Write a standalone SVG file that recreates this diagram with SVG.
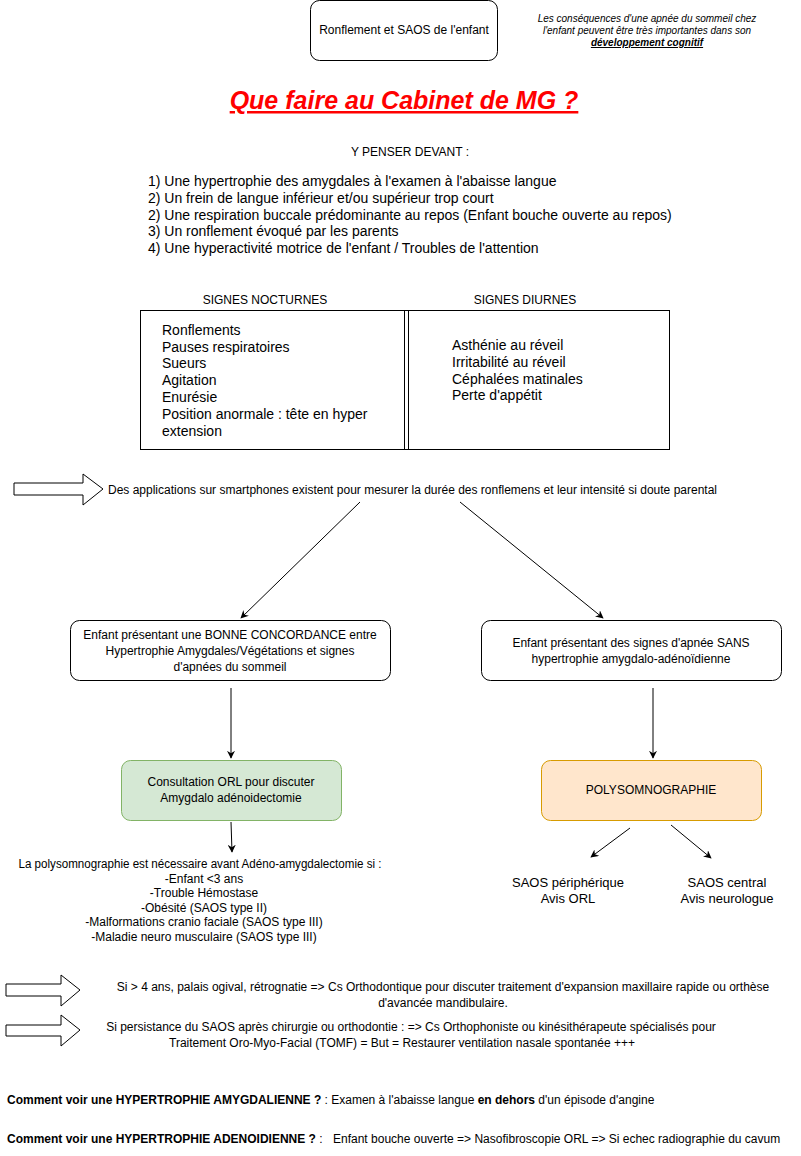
<svg xmlns="http://www.w3.org/2000/svg" width="801" height="1156" viewBox="0 0 801 1156">
<defs>
<style>
text{font-family:"Liberation Sans",Arial,sans-serif;fill:#000;}
.t12{font-size:12px;}
.t14{font-size:14px;}
.t13{font-size:13px;}
.c{text-anchor:middle;}
.b{font-weight:bold;}
.box{fill:#fff;stroke:#000;stroke-width:1;}
.blk{fill:#fff;stroke:#000;stroke-width:1;}
.edge{fill:none;stroke:#000;stroke-width:1;marker-end:url(#arr);}
</style>
<marker id="arr" viewBox="0 0 10 10" refX="9" refY="5" markerWidth="8" markerHeight="8" orient="auto" markerUnits="userSpaceOnUse">
<path d="M0,0 L10,5 L0,10 L3,5 z" fill="#000"/>
</marker>
</defs>
<rect width="801" height="1156" fill="#fff"/>

<g id="title-box">
<rect class="box" x="310.5" y="0.5" width="187" height="60" rx="9"/>
<text class="t12 c" x="404" y="34">Ronflement et SAOS de l'enfant</text>
</g>

<g id="note">
<text class="c" style="font-size:10px;font-style:italic" x="647" y="22">Les conséquences d'une apnée du sommeil chez</text>
<text class="c" style="font-size:10px;font-style:italic" x="647" y="34">l'enfant peuvent être très importantes dans son</text>
<text class="c b" style="font-size:10px;font-style:italic;text-decoration:underline" x="647" y="46">développement cognitif</text>
</g>

<g id="heading">
<text class="c b" style="font-size:25px;font-style:italic;fill:#ff0000;text-decoration:underline" x="404" y="109">Que faire au Cabinet de MG ?</text>
</g>

<g id="y-penser">
<text class="t12 c" x="410" y="156">Y PENSER DEVANT :</text>
<text class="t14" x="148" y="186">1) Une hypertrophie des amygdales à l'examen à l'abaisse langue</text>
<text class="t14" x="148" y="203">2) Un frein de langue inférieur et/ou supérieur trop court</text>
<text class="t14" x="148" y="220">2) Une respiration buccale prédominante au repos (Enfant bouche ouverte au repos)</text>
<text class="t14" x="148" y="236">3) Un ronflement évoqué par les parents</text>
<text class="t14" x="148" y="253">4) Une hyperactivité motrice de l'enfant / Troubles de l'attention</text>
</g>

<g id="signes">
<text class="t12 c" x="265" y="304">SIGNES NOCTURNES</text>
<text class="t12 c" x="525" y="304">SIGNES DIURNES</text>
<rect class="box" x="140.5" y="310.5" width="529" height="139"/>
<line x1="404.5" y1="310" x2="404.5" y2="450" stroke="#000"/>
<line x1="408.5" y1="310" x2="408.5" y2="450" stroke="#000"/>
<text class="t14" x="162" y="335">Ronflements</text>
<text class="t14" x="162" y="352">Pauses respiratoires</text>
<text class="t14" x="162" y="368">Sueurs</text>
<text class="t14" x="162" y="385">Agitation</text>
<text class="t14" x="162" y="402">Enurésie</text>
<text class="t14" x="162" y="419">Position anormale : tête en hyper</text>
<text class="t14" x="162" y="436">extension</text>
<text class="t14" x="452" y="350">Asthénie au réveil</text>
<text class="t14" x="452" y="367">Irritabilité au réveil</text>
<text class="t14" x="452" y="384">Céphalées matinales</text>
<text class="t14" x="452" y="400">Perte d'appétit</text>
</g>

<g id="applications">
<polygon class="blk" points="14,483 83,483 83,474 103,489 83,505 83,495 14,495"/>
<text class="t12" x="108" y="494">Des applications sur smartphones existent pour mesurer la durée des ronflemens et leur intensité si doute parental</text>
</g>

<g id="concordance">
<rect class="box" x="70.5" y="620.5" width="320" height="60" rx="9"/>
<text class="t12 c" x="230" y="639">Enfant présentant une BONNE CONCORDANCE entre</text>
<text class="t12 c" x="230" y="655">Hypertrophie Amygdales/Végétations et signes</text>
<text class="t12 c" x="230" y="671">d'apnées du sommeil</text>
</g>

<g id="sans-hypertrophie">
<rect class="box" x="481.5" y="620.5" width="300" height="60" rx="9"/>
<text class="t12 c" x="631" y="647">Enfant présentant des signes d'apnée SANS</text>
<text class="t12 c" x="631" y="663">hypertrophie amygdalo-adénoïdienne</text>
</g>

<g id="consultation-orl">
<rect x="121.5" y="760.5" width="220" height="60" rx="9" fill="#d5e8d4" stroke="#82b366"/>
<text class="t12 c" x="231" y="786">Consultation ORL pour discuter</text>
<text class="t12 c" x="231" y="802">Amygdalo adénoidectomie</text>
</g>

<g id="polysomnographie">
<rect x="541.5" y="760.5" width="220" height="60" rx="9" fill="#ffe6cc" stroke="#d79b00"/>
<text class="t12 c" x="651" y="794">POLYSOMNOGRAPHIE</text>
</g>

<g id="criteres">
<text class="t12 c" x="200" y="868" textLength="363" lengthAdjust="spacingAndGlyphs">La polysomnographie est nécessaire avant Adéno-amygdalectomie si :</text>
<text class="t12 c" x="204" y="883">-Enfant &lt;3 ans</text>
<text class="t12 c" x="204" y="897">-Trouble Hémostase</text>
<text class="t12 c" x="204" y="912">-Obésité (SAOS type II)</text>
<text class="t12 c" x="204" y="926">-Malformations cranio faciale (SAOS type III)</text>
<text class="t12 c" x="204" y="941">-Maladie neuro musculaire (SAOS type III)</text>
</g>

<g id="saos-peripherique">
<text class="t13 c" x="568" y="887">SAOS périphérique</text>
<text class="t13 c" x="568" y="903">Avis ORL</text>
</g>

<g id="saos-central">
<text class="t13 c" x="727" y="887">SAOS central</text>
<text class="t13 c" x="727" y="903">Avis neurologue</text>
</g>

<g id="orthodontie">
<polygon class="blk" points="6,984 61,984 61,975 80,990 61,1006 61,996 6,996"/>
<text class="t12 c" x="443" y="991">Si &gt; 4 ans, palais ogival, rétrognatie =&gt; Cs Orthodontique pour discuter traitement d'expansion maxillaire rapide ou orthèse</text>
<text class="t12 c" x="443" y="1007">d'avancée mandibulaire.</text>
</g>

<g id="persistance">
<polygon class="blk" points="6,1025 61,1025 61,1015 80,1030 61,1046 61,1036 6,1036"/>
<text class="t12 c" x="411" y="1031">Si persistance du SAOS après chirurgie ou orthodontie : =&gt; Cs Orthophoniste ou kinésithérapeute spécialisés pour</text>
<text class="t12 c" x="402" y="1047">Traitement Oro-Myo-Facial (TOMF) = But = Restaurer ventilation nasale spontanée +++</text>
</g>

<g id="amygdalienne">
<text class="t12" x="7" y="1104"><tspan class="b">Comment voir une HYPERTROPHIE AMYGDALIENNE ?</tspan> : Examen à l'abaisse langue <tspan class="b">en dehors</tspan> d'un épisode d'angine</text>
</g>

<g id="adenoidienne">
<text class="t12" x="7" y="1143"><tspan class="b">Comment voir une HYPERTROPHIE ADENOIDIENNE ?</tspan> :</text>
<text class="t12" x="333" y="1143">Enfant bouche ouverte =&gt; Nasofibroscopie ORL =&gt; Si echec radiographie du cavum</text>
</g>

<g id="connectors">
<line class="edge" x1="360" y1="502" x2="241" y2="618"/>
<line class="edge" x1="460" y1="502" x2="603" y2="618"/>
<line class="edge" x1="231" y1="688" x2="231" y2="758"/>
<line class="edge" x1="653" y1="688" x2="653" y2="758"/>
<line class="edge" x1="231" y1="822" x2="232" y2="852"/>
<line class="edge" x1="630" y1="828" x2="591" y2="857"/>
<line class="edge" x1="671" y1="825" x2="711" y2="858"/>
</g>
</svg>
